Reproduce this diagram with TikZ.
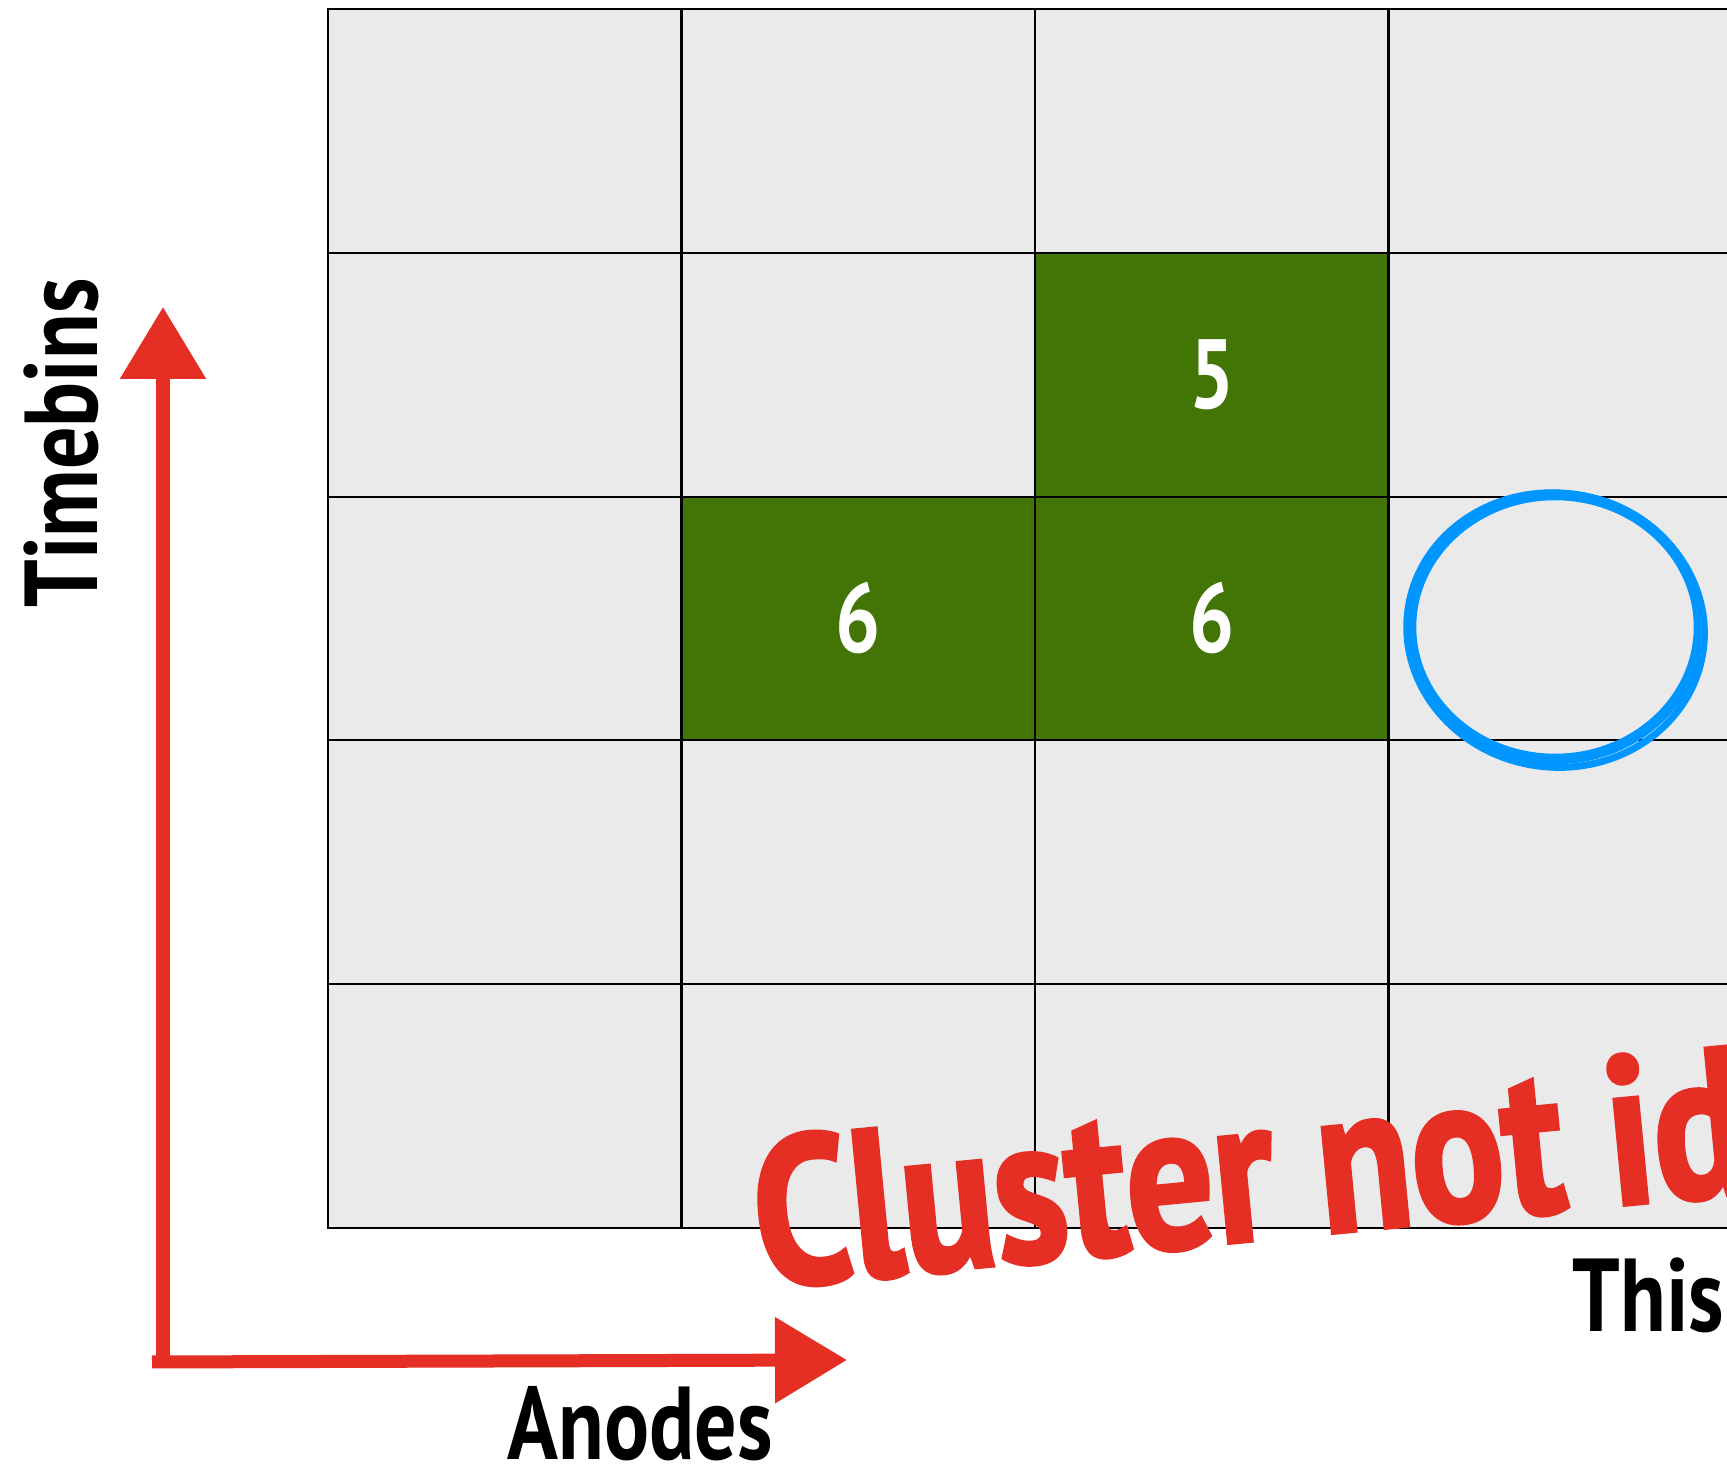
\documentclass[tikz,border=0pt]{standalone}
\usepackage{fontspec}
\usetikzlibrary{arrows.meta}
\setmainfont{PT Sans}
\newfontfamily\labelfont{PT Sans}[FakeStretch=0.81]
\newfontfamily\notefont{PT Sans}[FakeStretch=0.82, FakeBold=2]
\definecolor{cellgray}{HTML}{EAEAEA}
\definecolor{hitgreen}{HTML}{427505}
\definecolor{penred}{HTML}{E52E24}
\definecolor{penblue}{HTML}{0096FF}
\tikzset{
  cell/.style={draw=black, line width=0.6pt, fill=cellgray,
    minimum width=35.35mm, minimum height=24.38mm, inner sep=0pt, outer sep=0pt},
  hit/.style={cell, fill=hitgreen, text=white,
    font=\labelfont\bfseries\fontsize{28}{32}\selectfont},
  axislabel/.style={font=\labelfont\bfseries\fontsize{29.5}{36}\selectfont, inner sep=0pt},
  axis/.style={draw=penred, line width=3.7pt, -{Triangle[length=7.2mm,width=8.3mm]}},
}
\begin{document}
\begin{tikzpicture}[x=0.1mm,y=0.1mm]
  \clip (0,0) rectangle (1727,1466);
  \fill[white] (0,0) rectangle (1727,1466);
  \foreach \c in {1,...,4}
    \foreach \r in {1,...,5}
      \node[cell] (cell-\c-\r) at ({328+353.5*(\c-0.5)},{1457-243.8*(\r-0.5)}) {};
  \node[hit] (hit-top) at (cell-3-2) {5};
  \node[hit] (hit-left) at (cell-2-3) {6};
  \node[hit] (hit-mid) at (cell-3-3) {6};
  % hand drawn ring round the empty cell
  \draw[penblue, line width=3pt] (1555,839) ellipse [x radius=14.4mm, y radius=13.2mm];
  \draw[penblue, line width=2pt, rotate around={-8:(1555,839)}]
    (1556,836) ellipse [x radius=14.9mm, y radius=13.7mm];
  \node[font=\notefont\bfseries\fontsize{60}{70}\selectfont, text=penred,
    rotate=5.5, anchor=base west, inner sep=0pt] (verdict) at (760,178) {Cluster not id};
  \coordinate (time-start) at (163,98);
  \coordinate (time-end) at (163,1159);
  \coordinate (anode-start) at (152,104);
  \coordinate (anode-end) at (847,106);
  \draw[axis] (time-start) -- (time-end);
  \draw[axis] (anode-start) -- (anode-end);
  \node[axislabel, rotate=90, anchor=base] (timebins) at (97,1023) {Timebins};
  \node[axislabel, anchor=base west] (anodes) at (507,6) {Anodes};
  \node[axislabel, anchor=base west] (this) at (1572,134) {This};
\end{tikzpicture}
\end{document}
